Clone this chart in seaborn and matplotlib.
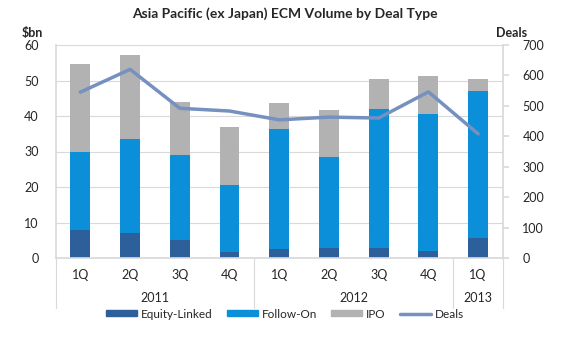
import matplotlib
matplotlib.use("Agg")
import matplotlib.pyplot as plt
import seaborn as sns
import numpy as np
import pandas as pd
from matplotlib.patches import Patch
from matplotlib.lines import Line2D

quarters = ["1Q", "2Q", "3Q", "4Q", "1Q", "2Q", "3Q", "4Q", "1Q"]
years = ["2011", "2011", "2011", "2011", "2012", "2012", "2012", "2012", "2013"]
equity_linked = [8.0, 7.0, 5.2, 1.6, 2.6, 2.7, 2.9, 2.1, 5.6]
follow_on = [22.0, 26.6, 23.9, 19.0, 33.8, 25.8, 39.2, 38.5, 41.5]
ipo = [24.6, 23.6, 14.9, 16.2, 7.3, 13.1, 8.2, 10.8, 3.4]
deals = [545, 620, 492, 483, 454, 463, 460, 546, 408]

c_el = "#2D5F9A"
c_fo = "#0B8FD9"
c_ipo = "#B2B2B2"
c_deal = "#7690BF"

sns.set_theme(style="white")
plt.rcParams["font.family"] = ["Lato", "DejaVu Sans"]

df = pd.DataFrame({
    "cat": [f"{y} {q}" for y, q in zip(years, quarters)],
    "el": equity_linked,
    "fo": follow_on,
    "ipo": ipo,
    "deals": deals,
})
df["lvl2"] = df["el"] + df["fo"]
df["lvl3"] = df["lvl2"] + df["ipo"]
df["pos"] = np.arange(len(df))

fig = plt.figure(figsize=(5.7, 3.44), dpi=100)
ax = fig.add_axes([55.5 / 570, 1 - 258 / 344, (503 - 55.5) / 570, (258 - 45) / 344])

order = list(df["cat"])
sns.barplot(data=df, x="cat", y="lvl3", order=order, color=c_ipo, width=0.4,
            saturation=1, ax=ax, zorder=2)
sns.barplot(data=df, x="cat", y="lvl2", order=order, color=c_fo, width=0.4,
            saturation=1, ax=ax, zorder=2)
sns.barplot(data=df, x="cat", y="el", order=order, color=c_el, width=0.4,
            saturation=1, ax=ax, zorder=2)
for p in ax.patches:
    p.set_edgecolor("none")

ax.set_ylim(0, 60)
ax.set_yticks(range(0, 61, 10))
ax.set_xlim(-0.5, len(df) - 0.5)
ax.yaxis.grid(True, color="#D9D9D9", linewidth=0.8, zorder=0)
ax.set_axisbelow(True)
ax.set_xlabel("")
ax.set_ylabel("")
ax.set_xticks(range(len(df)))
ax.set_xticklabels(quarters, fontsize=9)
ax.tick_params(axis="x", length=0, pad=8)
ax.tick_params(axis="y", labelsize=9, length=0, pad=12)
for s in ["top", "right"]:
    ax.spines[s].set_visible(False)
ax.spines["left"].set_color("#D9D9D9")
ax.spines["bottom"].set_color("#D9D9D9")

ax2 = ax.twinx()
sns.lineplot(data=df, x="pos", y="deals", color=c_deal, linewidth=2.5, ax=ax2, zorder=3)
ax2.set_ylim(0, 700)
ax2.set_yticks(range(0, 701, 100))
ax2.set_xlim(-0.5, len(df) - 0.5)
ax2.set_ylabel("")
ax2.tick_params(axis="y", labelsize=9, length=4, color="#D9D9D9", pad=10)
for s in ["top", "left", "bottom"]:
    ax2.spines[s].set_visible(False)
ax2.spines["right"].set_color("#D9D9D9")

# year group labels and separators
trans = ax.get_xaxis_transform()
groups = []
for i, y in enumerate(years):
    if not groups or groups[-1][0] != y:
        groups.append([y, i, i])
    else:
        groups[-1][2] = i
for y, a, b in groups:
    ax.text((a + b) / 2, -0.19, y, transform=trans, ha="center", va="center", fontsize=9)
bounds = [groups[0][1] - 0.5] + [g[2] + 0.5 for g in groups]
for xb in bounds:
    ax.plot([xb, xb], [0, -0.235], transform=trans, color="#D9D9D9", linewidth=0.8,
            clip_on=False)

fig.text(0.5, 1 - 14 / 344, "Asia Pacific (ex Japan) ECM Volume by Deal Type",
         ha="center", va="center", fontsize=10, fontweight="bold")
fig.text(32 / 570, 1 - 33 / 344, "$bn", ha="center", va="center", fontsize=9, fontweight="bold")
fig.text(512 / 570, 1 - 33 / 344, "Deals", ha="center", va="center", fontsize=9, fontweight="bold")

handles = [Patch(color=c_el, label="Equity-Linked"),
           Patch(color=c_fo, label="Follow-On"),
           Patch(color=c_ipo, label="IPO"),
           Line2D([], [], color=c_deal, linewidth=2.5, label="Deals")]
fig.legend(handles=handles, loc="center", bbox_to_anchor=(285 / 570, 1 - 314 / 344), ncol=4,
           frameon=False, fontsize=8.5, handlelength=2.6, handleheight=0.45,
           handletextpad=0.35, columnspacing=1.2)

fig.savefig("out.png", dpi=100)
